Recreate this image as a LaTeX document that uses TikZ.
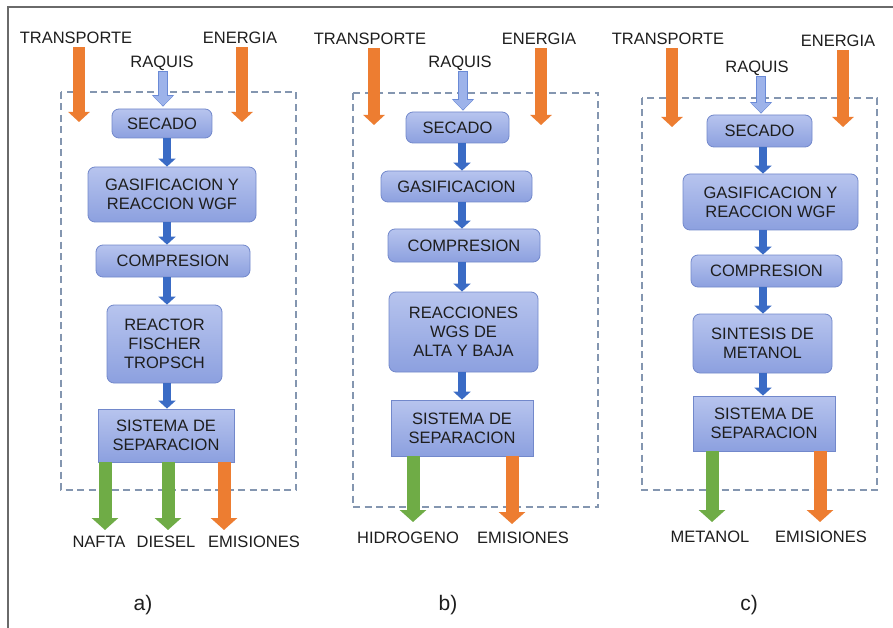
\documentclass[tikz,border=0pt]{standalone}
\usepackage{fontspec}
\setmainfont{Liberation Sans}
\usetikzlibrary{arrows.meta}

\definecolor{boxtop}{HTML}{B7C4EE}
\definecolor{boxbot}{HTML}{8CA0DF}
\definecolor{boxedge}{HTML}{7288CB}
\definecolor{flowblue}{HTML}{3A6BC5}
\definecolor{feedblue}{HTML}{9DB3EA}
\definecolor{feededge}{HTML}{6A8AD6}
\definecolor{heatorange}{HTML}{ED7D31}
\definecolor{prodgreen}{HTML}{6FAC46}
\definecolor{limitgray}{HTML}{8496B0}
\definecolor{ink}{HTML}{1E1E1E}
\definecolor{framegray}{HTML}{6A6A6A}

\tikzset{
  stage/.style={draw=boxedge, line width=0.8pt, top color=boxtop, bottom color=boxbot,
    rounded corners=7pt, align=center, text=ink, inner sep=0pt,
    font=\fontsize{16.5}{19}\selectfont},
  sepbox/.style={stage, rounded corners=0pt},
  tag/.style={anchor=base, inner sep=0pt, text=ink, font=\fontsize{16.5}{19}\selectfont},
  caption/.style={anchor=base, inner sep=0pt, text=ink, font=\fontsize{21}{24}\selectfont},
  limit/.style={draw=limitgray, line width=1.1pt, dash pattern=on 7pt off 4.5pt},
  flow/.style={draw=flowblue, line width=8.5pt, -{Triangle[width=17pt,length=8pt]}},
  feedrim/.style={draw=feededge, line width=9.6pt, -{Triangle[width=21.5pt,length=11.5pt]}},
  feed/.style={draw=feedblue, line width=7.6pt, -{Triangle[width=18.5pt,length=9.5pt]}},
  heat/.style={draw=heatorange, line width=12pt, -{Triangle[width=21pt,length=10pt]}},
  waste/.style={draw=heatorange, line width=13pt, -{Triangle[width=26pt,length=12pt]}},
  product/.style={draw=prodgreen, line width=13pt, -{Triangle[width=26pt,length=12pt]}},
}

\begin{document}
\begin{tikzpicture}[x=1pt, y=-1pt]
\useasboundingbox (0,0) rectangle (893,628);
\fill[white] (0,0) rectangle (893,628);

% outer frame
\draw[framegray, line width=1.6pt] (8,628) -- (8,7) -- (893,7);

% system boundaries
\draw[limit] (61,92) rectangle (296,490);
\draw[limit] (353,93) rectangle (598,507);
\draw[limit] (642,98) rectangle (877,490);

% ---------------- a) Fischer-Tropsch route ----------------
\node[tag] (a-tr) at (76,44) {TRANSPORTE};
\node[tag] (a-en) at (240,44) {ENERGIA};
\node[tag] (a-raq) at (162,68) {RAQUIS};

\node[stage, minimum width=100pt, minimum height=29pt] (a-sec) at (162,123.5) {SECADO};
\node[stage, minimum width=168pt, minimum height=55pt] (a-gas) at (172,194.5) {GASIFICACION Y\\REACCION WGF};
\node[stage, minimum width=154pt, minimum height=32pt] (a-comp) at (173,261) {COMPRESION};
\node[stage, minimum width=115pt, minimum height=78pt] (a-reac) at (164.5,344) {REACTOR\\FISCHER\\TROPSCH};
\node[sepbox, minimum width=136pt, minimum height=53pt] (a-sep) at (166,435.5) {SISTEMA DE\\SEPARACION};

\node[tag] (a-naf) at (99,547) {NAFTA};
\node[tag] (a-die) at (166,547) {DIESEL};
\node[tag] (a-emi) at (254,547) {EMISIONES};
\node[caption] (a-cap) at (143,610) {a)};

\coordinate (a-axis) at (167,0);
\coordinate (a-feed) at (163,0);
\coordinate (a-tr-end) at (79,122);
\coordinate (a-en-end) at (242,122);
\coordinate (a-naf-end) at (105,530);
\coordinate (a-die-end) at (168,530);
\coordinate (a-emi-end) at (224,530);

\draw[heat, shorten <=3pt] (a-tr.south -| a-tr-end) -- (a-tr-end);
\draw[heat, shorten <=3pt] (a-en.south -| a-en-end) -- (a-en-end);
\draw[feedrim, shorten >=2pt] (a-raq.south -| a-feed) -- (a-sec.north -| a-feed);
\draw[feed, shorten >=3pt, shorten <=1pt] (a-raq.south -| a-feed) -- (a-sec.north -| a-feed);
\draw[flow] (a-sec.south -| a-axis) -- (a-gas.north -| a-axis);
\draw[flow] (a-gas.south -| a-axis) -- (a-comp.north -| a-axis);
\draw[flow] (a-comp.south -| a-axis) -- (a-reac.north -| a-axis);
\draw[flow] (a-reac.south -| a-axis) -- (a-sep.north -| a-axis);
\draw[product] (a-sep.south -| a-naf-end) -- (a-naf-end);
\draw[product] (a-sep.south -| a-die-end) -- (a-die-end);
\draw[waste] (a-sep.south -| a-emi-end) -- (a-emi-end);

% ---------------- b) hydrogen route ----------------
\node[tag] (b-tr) at (370,45) {TRANSPORTE};
\node[tag] (b-en) at (539,45) {ENERGIA};
\node[tag] (b-raq) at (460,68) {RAQUIS};

\node[stage, minimum width=103pt, minimum height=31pt] (b-sec) at (457.5,127.5) {SECADO};
\node[stage, minimum width=151pt, minimum height=31pt] (b-gas) at (456.5,186.5) {GASIFICACION};
\node[stage, minimum width=152pt, minimum height=33pt] (b-comp) at (464,245.5) {COMPRESION};
\node[stage, minimum width=149pt, minimum height=80pt] (b-wgs) at (463.5,332) {REACCIONES\\WGS DE\\ALTA Y BAJA};
\node[sepbox, minimum width=142pt, minimum height=56pt] (b-sep) at (462,428) {SISTEMA DE\\SEPARACION};

\node[tag] (b-hid) at (408,543) {HIDROGENO};
\node[tag] (b-emi) at (523,543) {EMISIONES};
\node[caption] (b-cap) at (448,610) {b)};

\coordinate (b-axis) at (462,0);
\coordinate (b-feed) at (463,0);
\coordinate (b-tr-end) at (374,125);
\coordinate (b-en-end) at (541,125);
\coordinate (b-hid-end) at (413,522);
\coordinate (b-emi-end) at (512,524);

\draw[heat, shorten <=3pt] (b-tr.south -| b-tr-end) -- (b-tr-end);
\draw[heat, shorten <=3pt] (b-en.south -| b-en-end) -- (b-en-end);
\draw[feedrim, shorten >=1pt] (b-raq.south -| b-feed) -- (b-sec.north -| b-feed);
\draw[feed, shorten >=2pt, shorten <=1pt] (b-raq.south -| b-feed) -- (b-sec.north -| b-feed);
\draw[flow] (b-sec.south -| b-axis) -- (b-gas.north -| b-axis);
\draw[flow] (b-gas.south -| b-axis) -- (b-comp.north -| b-axis);
\draw[flow] (b-comp.south -| b-axis) -- (b-wgs.north -| b-axis);
\draw[flow] (b-wgs.south -| b-axis) -- (b-sep.north -| b-axis);
\draw[product] (b-sep.south -| b-hid-end) -- (b-hid-end);
\draw[waste] (b-sep.south -| b-emi-end) -- (b-emi-end);

% ---------------- c) methanol route ----------------
\node[tag] (c-tr) at (668,45) {TRANSPORTE};
\node[tag] (c-en) at (838,47) {ENERGIA};
\node[tag] (c-raq) at (757,73) {RAQUIS};

\node[stage, minimum width=105pt, minimum height=32pt] (c-sec) at (759.5,131) {SECADO};
\node[stage, minimum width=175pt, minimum height=56pt] (c-gas) at (770.5,202) {GASIFICACION Y\\REACCION WGF};
\node[stage, minimum width=151pt, minimum height=32pt] (c-comp) at (766.5,271) {COMPRESION};
\node[stage, minimum width=139pt, minimum height=59pt] (c-sin) at (762.5,343.5) {SINTESIS DE\\METANOL};
\node[sepbox, minimum width=142pt, minimum height=55pt] (c-sep) at (764,423.5) {SISTEMA DE\\SEPARACION};

\node[tag] (c-met) at (710,542) {METANOL};
\node[tag] (c-emi) at (821,542) {EMISIONES};
\node[caption] (c-cap) at (749,610) {c)};

\coordinate (c-axis) at (763,0);
\coordinate (c-feed) at (761,0);
\coordinate (c-tr-end) at (672,127);
\coordinate (c-en-end) at (843,127);
\coordinate (c-met-end) at (712,522);
\coordinate (c-emi-end) at (820,522);

\draw[heat, shorten <=3pt] (c-tr.south -| c-tr-end) -- (c-tr-end);
\draw[heat, shorten <=3pt] (c-en.south -| c-en-end) -- (c-en-end);
\draw[feedrim, shorten >=1pt] (c-raq.south -| c-feed) -- (c-sec.north -| c-feed);
\draw[feed, shorten >=2pt, shorten <=1pt] (c-raq.south -| c-feed) -- (c-sec.north -| c-feed);
\draw[flow] (c-sec.south -| c-axis) -- (c-gas.north -| c-axis);
\draw[flow] (c-gas.south -| c-axis) -- (c-comp.north -| c-axis);
\draw[flow] (c-comp.south -| c-axis) -- (c-sin.north -| c-axis);
\draw[flow] (c-sin.south -| c-axis) -- (c-sep.north -| c-axis);
\draw[product] (c-sep.south -| c-met-end) -- (c-met-end);
\draw[waste] (c-sep.south -| c-emi-end) -- (c-emi-end);
\end{tikzpicture}
\end{document}
